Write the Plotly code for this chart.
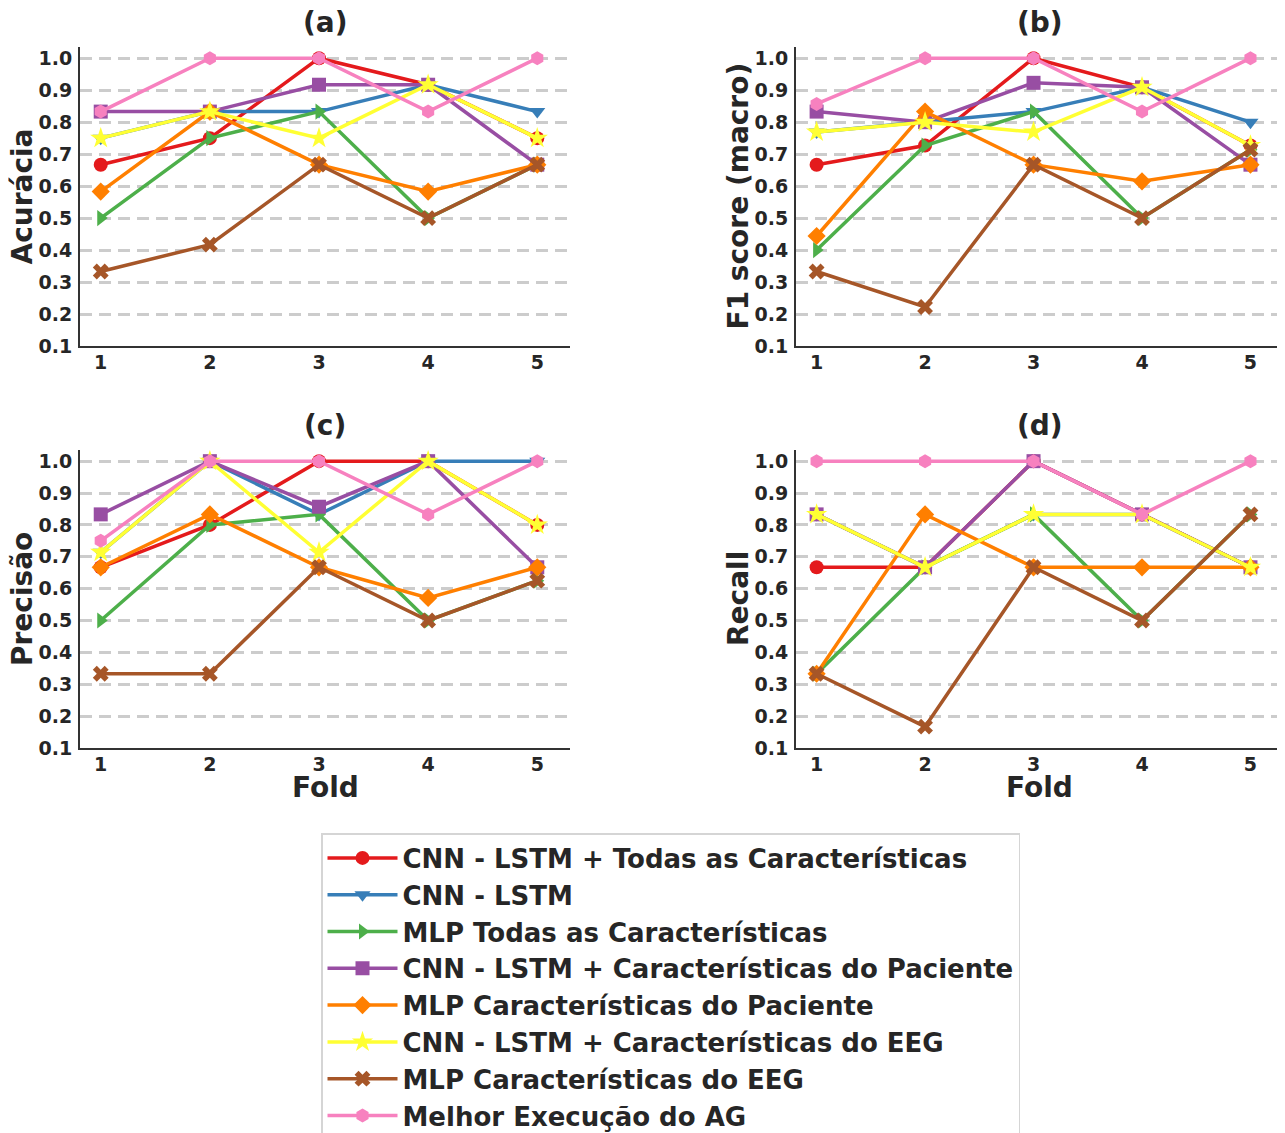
import plotly.graph_objects as go

# the page body adds an 8px margin, so the figure is drawn 8px smaller and all
# reference pixel positions are offset by 8px
OFF = 8
W, H = 1285 - OFF, 1133 - OFF
folds = [1, 2, 3, 4, 5]

series_names = [
    "CNN - LSTM + Todas as Características",
    "CNN - LSTM",
    "MLP Todas as Características",
    "CNN - LSTM + Características do Paciente",
    "MLP Características do Paciente",
    "CNN - LSTM + Características do EEG",
    "MLP Características do EEG",
    "Melhor Execução do AG",
]
colors = ["#e41a1c", "#377eb8", "#4daf4a", "#984ea3", "#ff7f00", "#ffff33", "#a65628", "#f781bf"]
symbols = ["circle", "triangle-down", "triangle-right", "square", "diamond", "star", "x", "hexagon"]

# (a) Acurácia
acc_cnn_lstm_todas = [0.667, 0.75, 1.0, 0.917, 0.75]
acc_cnn_lstm = [0.75, 0.833, 0.833, 0.917, 0.833]
acc_mlp_todas = [0.5, 0.75, 0.833, 0.5, 0.667]
acc_cnn_lstm_paciente = [0.833, 0.833, 0.917, 0.917, 0.667]
acc_mlp_paciente = [0.583, 0.833, 0.667, 0.583, 0.667]
acc_cnn_lstm_eeg = [0.75, 0.833, 0.75, 0.917, 0.75]
acc_mlp_eeg = [0.333, 0.417, 0.667, 0.5, 0.667]
acc_ag = [0.833, 1.0, 1.0, 0.833, 1.0]

# (b) F1 score (macro)
f1_cnn_lstm_todas = [0.667, 0.727, 1.0, 0.909, 0.727]
f1_cnn_lstm = [0.769, 0.8, 0.833, 0.909, 0.8]
f1_mlp_todas = [0.4, 0.727, 0.833, 0.5, 0.714]
f1_cnn_lstm_paciente = [0.833, 0.8, 0.923, 0.909, 0.667]
f1_mlp_paciente = [0.444, 0.833, 0.667, 0.615, 0.667]
f1_cnn_lstm_eeg = [0.769, 0.8, 0.769, 0.909, 0.727]
f1_mlp_eeg = [0.333, 0.222, 0.667, 0.5, 0.714]
f1_ag = [0.857, 1.0, 1.0, 0.833, 1.0]

# (c) Precisão
prec_cnn_lstm_todas = [0.667, 0.8, 1.0, 1.0, 0.8]
prec_cnn_lstm = [0.714, 1.0, 0.833, 1.0, 1.0]
prec_mlp_todas = [0.5, 0.8, 0.833, 0.5, 0.625]
prec_cnn_lstm_paciente = [0.833, 1.0, 0.857, 1.0, 0.667]
prec_mlp_paciente = [0.667, 0.833, 0.667, 0.571, 0.667]
prec_cnn_lstm_eeg = [0.714, 1.0, 0.714, 1.0, 0.8]
prec_mlp_eeg = [0.333, 0.333, 0.667, 0.5, 0.625]
prec_ag = [0.75, 1.0, 1.0, 0.833, 1.0]

# (d) Recall
rec_cnn_lstm_todas = [0.667, 0.667, 1.0, 0.833, 0.667]
rec_cnn_lstm = [0.833, 0.667, 0.833, 0.833, 0.667]
rec_mlp_todas = [0.333, 0.667, 0.833, 0.5, 0.833]
rec_cnn_lstm_paciente = [0.833, 0.667, 1.0, 0.833, 0.667]
rec_mlp_paciente = [0.333, 0.833, 0.667, 0.667, 0.667]
rec_cnn_lstm_eeg = [0.833, 0.667, 0.833, 0.833, 0.667]
rec_mlp_eeg = [0.333, 0.167, 0.667, 0.5, 0.833]
rec_ag = [1.0, 1.0, 1.0, 0.833, 1.0]

panels = [
    ("(a)", "Acurácia", [acc_cnn_lstm_todas, acc_cnn_lstm, acc_mlp_todas, acc_cnn_lstm_paciente,
                         acc_mlp_paciente, acc_cnn_lstm_eeg, acc_mlp_eeg, acc_ag]),
    ("(b)", "F1 score (macro)", [f1_cnn_lstm_todas, f1_cnn_lstm, f1_mlp_todas, f1_cnn_lstm_paciente,
                                 f1_mlp_paciente, f1_cnn_lstm_eeg, f1_mlp_eeg, f1_ag]),
    ("(c)", "Precisão", [prec_cnn_lstm_todas, prec_cnn_lstm, prec_mlp_todas, prec_cnn_lstm_paciente,
                         prec_mlp_paciente, prec_cnn_lstm_eeg, prec_mlp_eeg, prec_ag]),
    ("(d)", "Recall", [rec_cnn_lstm_todas, rec_cnn_lstm, rec_mlp_todas, rec_cnn_lstm_paciente,
                       rec_mlp_paciente, rec_cnn_lstm_eeg, rec_mlp_eeg, rec_ag]),
]

y_ticks = [0.1, 0.2, 0.3, 0.4, 0.5, 0.6, 0.7, 0.8, 0.9, 1.0]
x_ticks = folds

# pixel boxes of each panel in the screenshot (left, right, top, bottom)
boxes = [(80, 570, 47, 346), (796, 1283, 47, 346), (80, 570, 450, 748), (796, 1283, 450, 748)]


def px(x):
    return (x - OFF) / W


def py(y):
    return 1 - (y - OFF) / H


FONT = "DejaVu Sans"
TXT = "#262626"

fig = go.Figure()
layout = {}
annotations = []
for i, (title, ytitle, data) in enumerate(panels):
    n = i + 1
    xa = "x" if n == 1 else f"x{n}"
    ya = "y" if n == 1 else f"y{n}"
    for k, vals in enumerate(data):
        fig.add_trace(go.Scatter(
            x=folds, y=vals, mode="lines+markers", name=series_names[k],
            line=dict(color=colors[k], width=3.5),
            marker=dict(symbol=symbols[k], size=14 if symbols[k] != "star" else 16, color=colors[k]),
            xaxis=xa, yaxis=ya, showlegend=(n == 1), legendgroup=f"g{k}",
        ))
    l, r, t, b = boxes[i]
    xkey = "xaxis" if n == 1 else f"xaxis{n}"
    ykey = "yaxis" if n == 1 else f"yaxis{n}"
    layout[xkey] = dict(
        domain=[px(l), px(r)], anchor=ya, range=[0.81, 5.3], automargin=False,
        tickvals=x_ticks, ticktext=[str(v) for v in x_ticks],
        showgrid=False, zeroline=False, showline=True, linecolor="#333333", linewidth=2,
        ticks="", ticklabelstandoff=-2,
        tickfont=dict(family=FONT, size=19, color=TXT, weight="bold"),
    )
    layout[ykey] = dict(
        domain=[py(b), py(t)], anchor=xa, range=[0.1, 1.035], automargin=False,
        tickvals=y_ticks, ticktext=[f"{v:.1f}" for v in y_ticks],
        showgrid=True, gridcolor="#cccccc", gridwidth=3, griddash="12px,7px",
        zeroline=False, showline=True, linecolor="#333333", linewidth=2,
        ticks="", ticklabelstandoff=2,
        tickfont=dict(family=FONT, size=19, color=TXT, weight="bold"),
    )
    cx = (l + r) / 2
    annotations.append(dict(text=title, x=px(cx), y=py(t - 25), xref="paper", yref="paper",
                            xanchor="center", yanchor="middle", showarrow=False,
                            font=dict(family=FONT, size=28, color=TXT, weight="bold")))
    ytx = 22 if l < 400 else 738
    annotations.append(dict(text=ytitle, x=px(ytx), y=py((t + b) / 2), xref="paper", yref="paper",
                            xanchor="center", yanchor="middle", textangle=-90, showarrow=False,
                            font=dict(family=FONT, size=28, color=TXT, weight="bold")))
    if i >= 2:
        annotations.append(dict(text="Fold", x=px(cx), y=py(787), xref="paper", yref="paper",
                                xanchor="center", yanchor="middle", showarrow=False,
                                font=dict(family=FONT, size=28, color=TXT, weight="bold")))

fig.update_layout(
    width=W, height=H,
    margin=dict(l=0, r=0, t=0, b=0, autoexpand=False),
    paper_bgcolor="white", plot_bgcolor="white",
    annotations=annotations,
    legend=dict(
        x=px(321), y=py(833), xanchor="left", yanchor="top",
        bgcolor="white", bordercolor="#d5d5d5", borderwidth=1.5,
        font=dict(family=FONT, size=26, color=TXT, weight="bold"),
        tracegroupgap=0, itemwidth=70,
    ),
    **layout,
)

fig.write_html("out.html")
